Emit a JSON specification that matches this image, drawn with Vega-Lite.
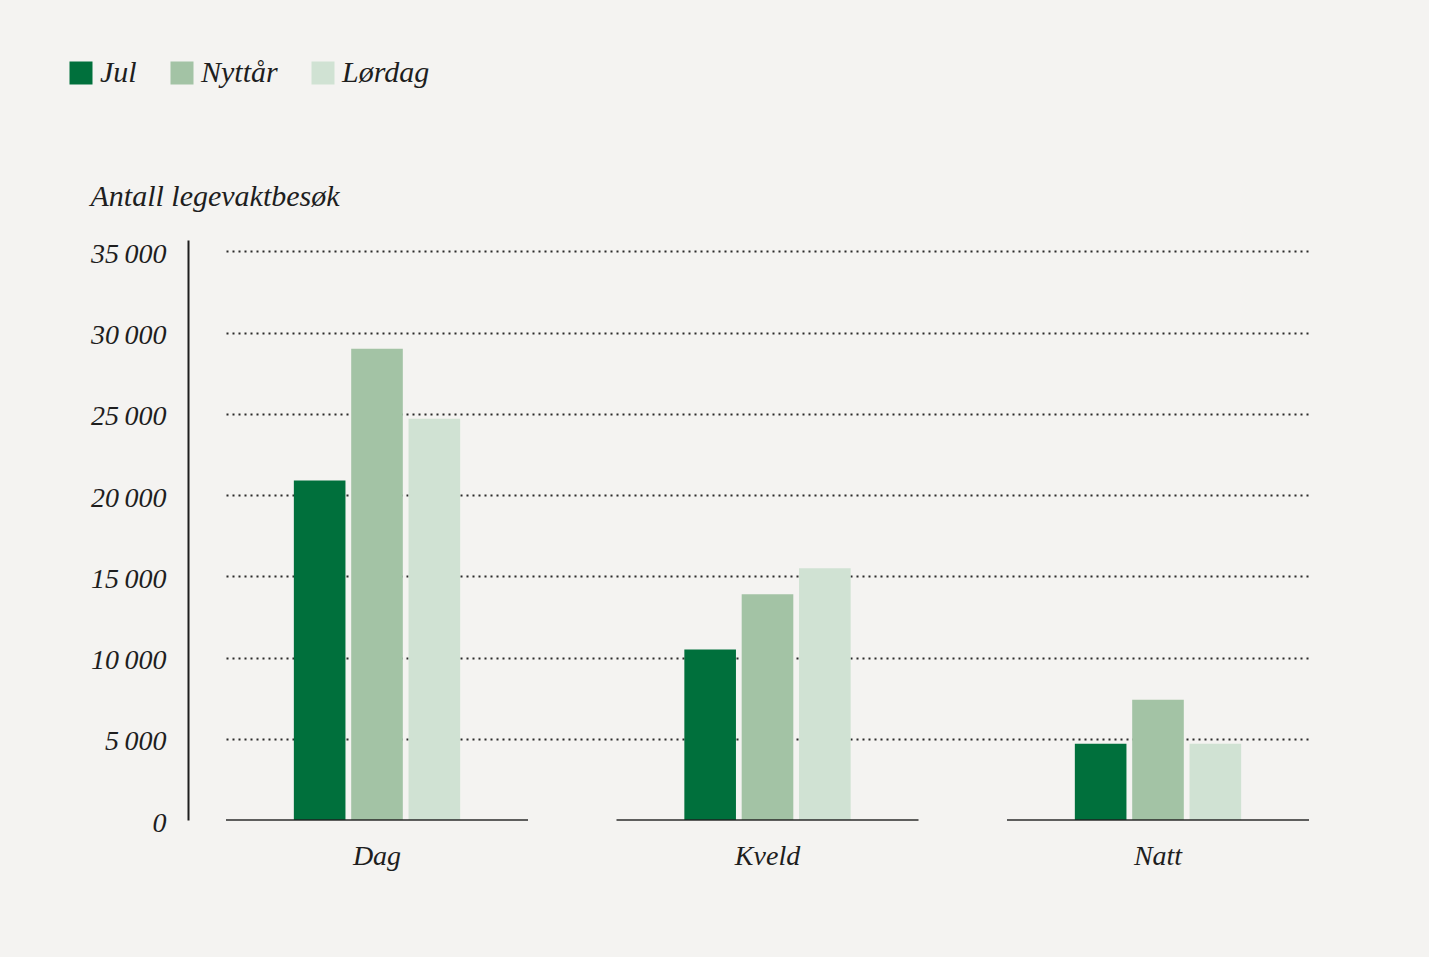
{
  "$schema": "https://vega.github.io/schema/vega-lite/v6.json",
  "autosize": "none",
  "padding": {"left": 226, "top": 240, "right": 120, "bottom": 137},
  "width": 1083,
  "height": 580,
  "background": "#f4f3f1",
  "config": {
    "view": {"stroke": null},
    "font": "Liberation Serif",
    "axis": {
      "labelFont": "Liberation Serif",
      "labelFontStyle": "italic",
      "labelColor": "#1e1e1e",
      "titleFont": "Liberation Serif",
      "titleFontStyle": "italic",
      "titleFontWeight": "normal",
      "titleColor": "#1e1e1e"
    },
    "legend": {
      "labelFont": "Liberation Serif",
      "labelFontStyle": "italic",
      "labelColor": "#1e1e1e"
    }
  },
  "data": {
    "values": [
      {"periode": "Dag", "gruppe": "Jul", "besok": 20900},
      {"periode": "Dag", "gruppe": "Nyttår", "besok": 29000},
      {"periode": "Dag", "gruppe": "Lørdag", "besok": 24700},
      {"periode": "Kveld", "gruppe": "Jul", "besok": 10500},
      {"periode": "Kveld", "gruppe": "Nyttår", "besok": 13900},
      {"periode": "Kveld", "gruppe": "Lørdag", "besok": 15500},
      {"periode": "Natt", "gruppe": "Jul", "besok": 4700},
      {"periode": "Natt", "gruppe": "Nyttår", "besok": 7400},
      {"periode": "Natt", "gruppe": "Lørdag", "besok": 4700}
    ]
  },
  "encoding": {
    "x": {
      "field": "periode",
      "type": "nominal",
      "sort": ["Dag", "Kveld", "Natt"],
      "scale": {"paddingInner": 0.2804, "paddingOuter": 0.0269},
      "axis": {
        "title": null,
        "domain": false,
        "ticks": false,
        "labelAngle": 0,
        "labelFontSize": 28,
        "labelPadding": 22
      }
    }
  },
  "layer": [
    {
      "mark": {"type": "bar"},
      "encoding": {
        "xOffset": {
          "field": "gruppe",
          "type": "nominal",
          "sort": ["Jul", "Nyttår", "Lørdag"],
          "scale": {"paddingInner": 0.1, "paddingOuter": 1}
        },
        "y": {
          "field": "besok",
          "type": "quantitative",
          "scale": {"domain": [0, 35700], "nice": false},
          "axis": {
            "title": "Antall legevaktbesøk",
            "titleAngle": 0,
            "titleAlign": "left",
            "titleBaseline": "alphabetic",
            "titleX": -98,
            "titleY": -35,
            "titleFontSize": 30,
            "values": [0, 5000, 10000, 15000, 20000, 25000, 30000, 35000],
            "labelExpr": "replace(format(datum.value, ','), ',', '\u2009')",
            "labelFontSize": 28,
            "labelPadding": 22,
            "labelOffset": 3,
            "offset": 38,
            "ticks": false,
            "domainColor": "#1e1e1e",
            "domainWidth": 2,
            "grid": true,
            "gridColor": "#2a2a2a",
            "gridWidth": 2,
            "gridDash": [2, 4],
            "gridOpacity": {"condition": {"test": "datum.value === 0", "value": 0}, "value": 1}
          }
        },
        "color": {
          "field": "gruppe",
          "type": "nominal",
          "sort": ["Jul", "Nyttår", "Lørdag"],
          "scale": {
            "domain": ["Jul", "Nyttår", "Lørdag"],
            "range": ["#00703c", "#a3c3a5", "#d0e2d3"]
          },
          "legend": {
            "title": null,
            "orient": "none",
            "direction": "horizontal",
            "legendX": -160,
            "legendY": -182,
            "symbolType": "square",
            "symbolSize": 529,
            "symbolStrokeWidth": 0,
            "symbolOpacity": 1,
            "labelFontSize": 30,
            "labelOffset": 4,
            "columnPadding": 30
          }
        }
      }
    },
    {
      "transform": [{"filter": "datum.gruppe === 'Jul'"}],
      "mark": {"type": "tick", "orient": "horizontal", "size": 302, "thickness": 2, "color": "#1e1e1e"},
      "encoding": {
        "y": {"datum": 0, "type": "quantitative"}
      }
    }
  ]
}
